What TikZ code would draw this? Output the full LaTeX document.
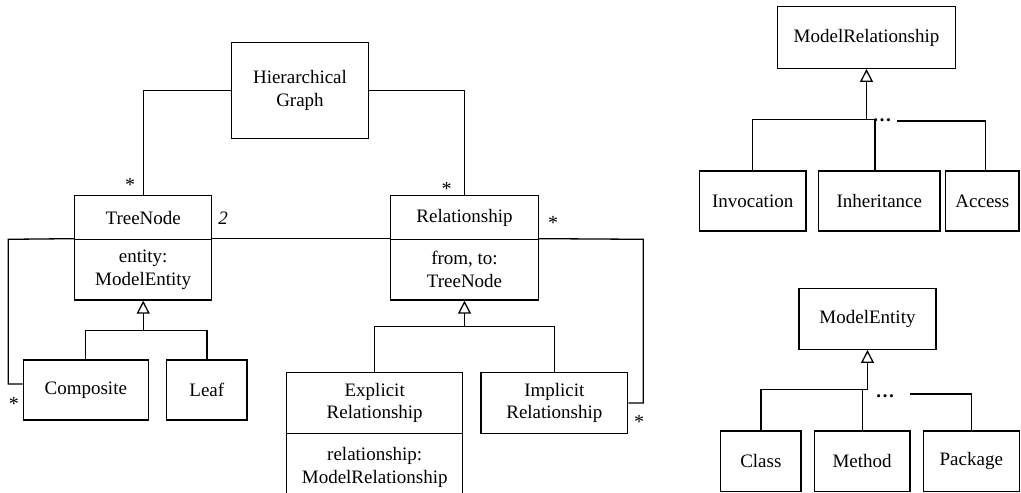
\documentclass[tikz,border=0pt]{standalone}
\usepackage{fontspec}
\setmainfont{Liberation Serif}
\usetikzlibrary{arrows.meta}
\begin{document}
\begin{tikzpicture}[x=1pt,y=-1pt,
  lw/.style={line width=1.3pt},
  box/.style={draw,lw,inner sep=0pt,align=center,font=\fontsize{19}{22.7}\selectfont},
  mult/.style={inner sep=0pt,font=\fontsize{20}{22.7}\selectfont,yshift=-3.5pt},
  gen/.style={lw,-{Triangle[open,length=13pt,width=13pt]}},
  dotsstyle/.style={inner sep=0pt,anchor=base,font=\fontsize{19}{22.7}\selectfont\bfseries}]
\useasboundingbox (0,0) rectangle (1021,493);
\clip (0,0) rectangle (1021,493);
% left diagram
\node[box,minimum width=136.6pt,minimum height=95.6pt] (HG) at (300,90.5) {Hierarchical\\Graph};
\node[box,minimum width=137pt,minimum height=43.6pt] (TN) at (143.2,217.5) {TreeNode};
\node[box,minimum width=137pt,minimum height=60.7pt] (TNa) at (143.2,269.65) {entity:\\ModelEntity};
\node[box,minimum width=147.6pt,minimum height=43.6pt] (Rel) at (464.5,217.5) {Relationship};
\node[box,minimum width=147.6pt,minimum height=60.7pt] (Rela) at (464.5,269.65) {from, to:\\TreeNode};
\node[box,minimum width=125pt,minimum height=60pt] (Comp) at (85.8,390) {Composite};
\node[box,minimum width=80.3pt,minimum height=60pt] (Leaf) at (206.85,390) {Leaf};
\node[box,minimum width=176pt,minimum height=60.6pt] (Expl) at (374.7,403) {Explicit\\Relationship};
\node[box,minimum width=176pt,minimum height=68pt] (Expla) at (374.7,467.3) {relationship:\\ModelRelationship};
\node[box,minimum width=146.7pt,minimum height=60.6pt] (Impl) at (554.35,403) {Implicit\\Relationship};
% multiplicities
\node[mult] (s1) at (130,181) {*};
\node[mult] (s2) at (446.7,185) {*};
\node[inner sep=0pt,font=\fontsize{19}{22.7}\selectfont\itshape] (two) at (223,218) {2};
\node[mult] (s3) at (553,219) {*};
\node[mult] (s4) at (14,400) {*};
\node[mult] (s5) at (639,418) {*};
% composition lines
\draw[lw] (HG.west) -| (TN.north);
\draw[lw] (HG.east) -| (Rel.north);
\coordinate (cl) at (8.3,239.3);
\coordinate (cr) at (643.3,239.3);
\draw[lw] ([yshift=6pt]Comp.west) -| (cl) -- (TNa.north west);
\draw[lw] (TNa.north east) -- (Rela.north west);
\draw[lw] (Rela.north east) -- (cr) |- (Impl.east);
% generalizations
\coordinate (j1) at (143.2,330.7);
\draw[gen] (j1) -- (TNa.south);
\draw[lw] (Comp.north) |- (j1) -| (Leaf.north);
\coordinate (j2) at (464.5,326.7);
\draw[gen] (j2) -- (Rela.south);
\draw[lw] (Expl.north) |- (j2) -| (Impl.north);
% right top
\node[box,minimum width=177.6pt,minimum height=61.6pt] (MR) at (866.5,37.5) {ModelRelationship};
\node[box,minimum width=106.7pt,minimum height=60pt] (Inv) at (752.65,201) {Invocation};
\node[box,minimum width=121.3pt,minimum height=60pt] (Inh) at (879.35,201) {Inheritance};
\node[box,minimum width=73.3pt,minimum height=60pt] (Acc) at (982.35,201) {Access};
\coordinate (j3) at (866.5,119.3);
\draw[gen] (j3) -- (MR.south);
\coordinate (h1) at (875,119.3);
\draw[lw] (Inv.north) |- (h1) -- (h1 |- Inh.north);
\coordinate (d1) at (897.3,121);
\coordinate (h2) at (985.7,121);
\draw[lw] (d1) -- (h2) -- (h2 |- Acc.north);
\node[dotsstyle] (dots1) at (882,121) {\ldots};
% right bottom
\node[box,minimum width=137pt,minimum height=61pt] (ME) at (867.5,318.8) {ModelEntity};
\node[box,minimum width=80.3pt,minimum height=60.7pt] (Cls) at (760.85,461.35) {Class};
\node[box,minimum width=95.7pt,minimum height=60.7pt] (Meth) at (862.15,461.35) {Method};
\node[box,minimum width=96pt,minimum height=60.7pt] (Pkg) at (971.3,461.35) {Package};
\coordinate (j4) at (867.5,389.3);
\draw[gen] (j4) -- (ME.south);
\draw[lw] (Cls.north) |- (j4);
\coordinate (h3) at (862.15,390);
\draw[lw] (Meth.north) -- (h3);
\coordinate (d2) at (910,394);
\coordinate (h4) at (971.3,394);
\draw[lw] (d2) -- (h4) -- (Pkg.north);
\node[dotsstyle] (dots2) at (885,397.5) {\ldots};
\end{tikzpicture}
\end{document}
